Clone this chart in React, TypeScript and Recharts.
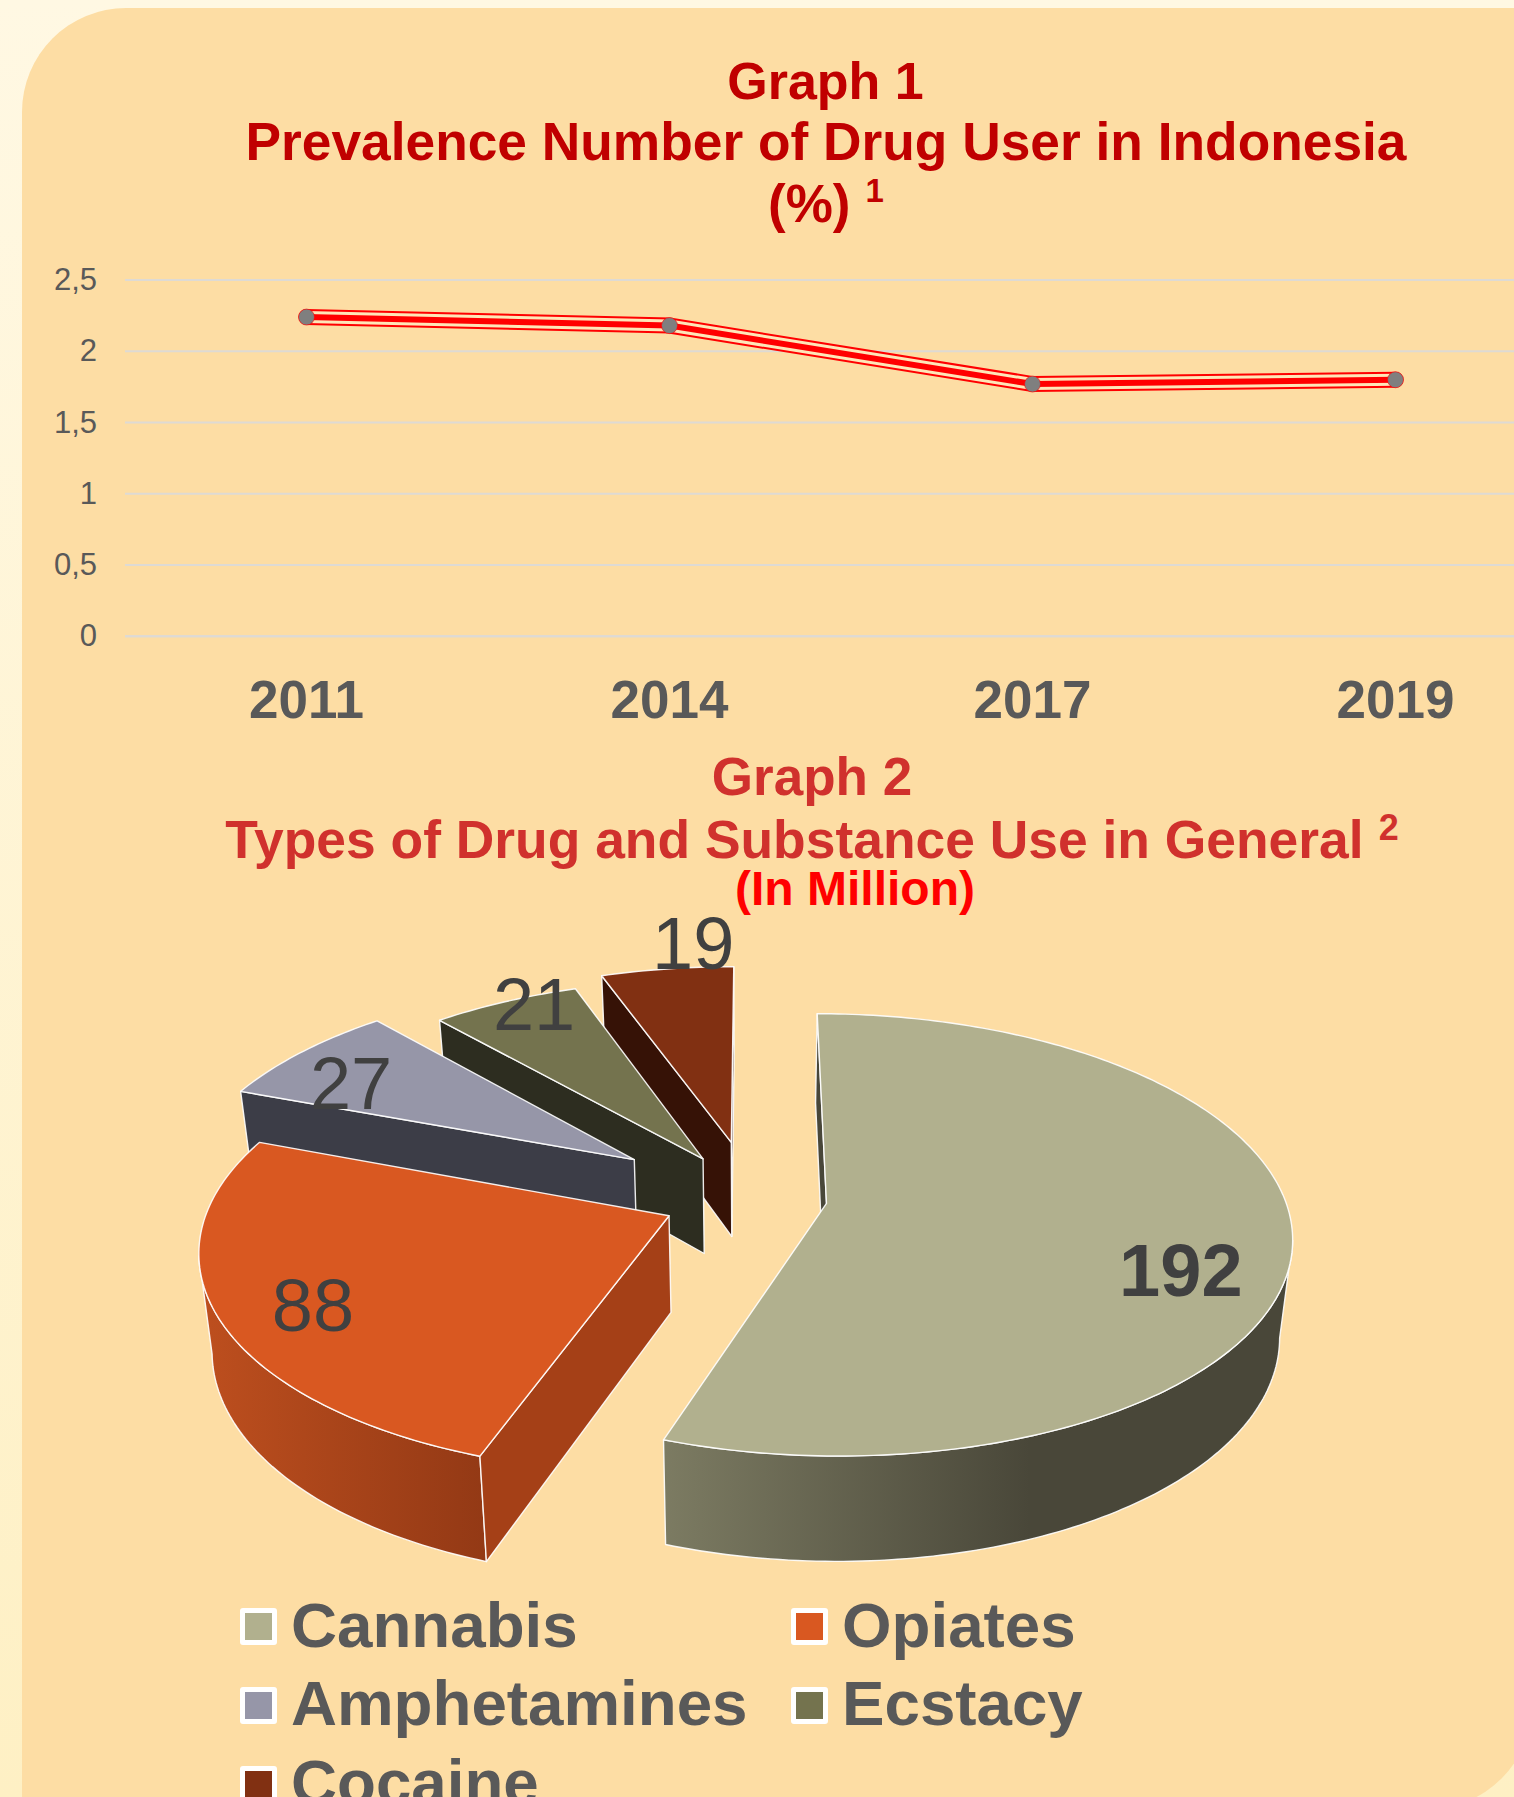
import React from "react";
import { CartesianGrid, Legend, Line, LineChart, Pie, PieChart, XAxis, YAxis } from "recharts";

// Graph 1: prevalence of drug use (%)
const years = ["2011", "2014", "2017", "2019"];
const prevalence = [2.24, 2.18, 1.77, 1.8];
const prevalenceTicks = [0, 0.5, 1, 1.5, 2, 2.5];

// Graph 2: substance use (in million)
const substances = ["Cannabis", "Opiates", "Amphetamines", "Ecstacy", "Cocaine"];
const users = [192, 88, 27, 21, 19];
const topColors = ["#B1B08E", "#D95821", "#9696A8", "#74734E", "#813012"];
const wallColors = ["#494739", "#A54017", "#3C3D47", "#2D2D20", "#361206"];
const rimGradients = [
  ["#7C7B62", "#494739", 665, 1030],
  ["#BC4E1E", "#933915", 210, 486],
  ["#3C3D47", "#3C3D47", 240, 640],
  ["#2D2D20", "#2D2D20", 440, 710],
  ["#361206", "#361206", 600, 740],
];
const explosions = [0.165, 0.197, 0.319, 0.214, 0.27];
const labelShifts = [
  [77.3, 45],
  [-91.7, 31],
  [-77.5, -10],
  [-44.9, -56],
  [2.3, -89.5],
];
const boldLabels = [true, false, false, false, false];

const FONT = '"Liberation Sans", Arial, sans-serif';
const INK = "#595959";

const lineRows = years.map((year, i) => ({ year, value: prevalence[i] }));

// Listed from the back of the pie to the front so nearer slices paint last.
const pieRows = substances
  .map((name, i) => ({ name, value: users[i], fill: topColors[i] }))
  .reverse();

// Perspective of the tilted disc: depth foreshortening and vertical squash.
const TILT = 0.1415;
const SQUASH = 215;
const VANISH_X = 750;

type Pt = { x: number; y: number; s: number };

const toDisc = (deg: number) => {
  const r = (deg * Math.PI) / 180;
  return [Math.sin(r), -Math.cos(r)];
};

const makeProjector = (cx: number, cy: number, rx: number) => (u: number, v: number): Pt => {
  const s = 1 / (1 - TILT * v);
  return { x: cx + rx * u * s, y: cy + SQUASH * v * s, s };
};

const lower = (p: Pt): Pt => ({
  x: p.x + (VANISH_X - p.x) * 0.024,
  y: p.y + 41 + 55 * p.s,
  s: p.s,
});

const pathOf = (pts: Pt[]) =>
  pts.map((p, i) => `${i ? "L" : "M"}${p.x.toFixed(2)} ${p.y.toFixed(2)}`).join("") + "Z";

// Recharts angles run counter-clockwise from east; the disc uses clockwise from north.
const clockwiseRange = (startAngle: number, endAngle: number) => {
  let from = 90 - Math.max(startAngle, endAngle);
  let to = 90 - Math.min(startAngle, endAngle);
  while (from < 0) {
    from += 360;
    to += 360;
  }
  return [from, to];
};

const Slice3D = (props: any) => {
  const { cx, cy, outerRadius, startAngle, endAngle } = props;
  const name = props.payload?.name ?? props.name;
  const idx = substances.indexOf(name);
  const project = makeProjector(cx, cy, outerRadius);
  const [from, to] = clockwiseRange(startAngle, endAngle);
  const [du, dv] = toDisc((from + to) / 2);
  const ou = du * explosions[idx];
  const ov = dv * explosions[idx];
  const apex = project(ou, ov);
  const camV = 1 / TILT;

  const steps = Math.max(4, Math.ceil(to - from));
  const rim: Pt[] = [];
  const front: Pt[] = [];
  for (let k = 0; k <= steps; k++) {
    const deg = from + ((to - from) * k) / steps;
    const [u, v] = toDisc(deg);
    const p = project(ou + u, ov + v);
    rim.push(p);
    if (u * (0 - (ou + u)) + v * (camV - (ov + v)) > 0) front.push(p);
  }

  const wall = (deg: number, sign: number, edge: Pt) => {
    const r = (deg * Math.PI) / 180;
    const nu = sign * Math.cos(r);
    const nv = sign * Math.sin(r);
    const facing = nu * (0 - ou) + nv * (camV - ov) > 0;
    return facing ? pathOf([apex, edge, lower(edge), lower(apex)]) : null;
  };
  const startWall = wall(from, -1, rim[0]);
  const endWall = wall(to, 1, rim[rim.length - 1]);
  const [light, dark, x1, x2] = rimGradients[idx];
  const gradId = `rim-${idx}`;
  const edgeStyle = { stroke: "#FFFFFF", strokeWidth: 1.4, strokeLinejoin: "round" as const, strokeOpacity: 0.9 };

  return (
    <g>
      <defs>
        <linearGradient id={gradId} gradientUnits="userSpaceOnUse" x1={x1 as number} x2={x2 as number} y1={0} y2={0}>
          <stop offset="0" stopColor={light as string} />
          <stop offset="1" stopColor={dark as string} />
        </linearGradient>
      </defs>
      {front.length > 1 && (
        <path d={pathOf([...front, ...[...front].reverse().map(lower)])} fill={`url(#${gradId})`} {...edgeStyle} />
      )}
      {endWall && <path d={endWall} fill={wallColors[idx]} {...edgeStyle} />}
      {startWall && <path d={startWall} fill={wallColors[idx]} {...edgeStyle} />}
      <path d={pathOf([apex, ...rim])} fill={topColors[idx]} {...edgeStyle} />
    </g>
  );
};

const SliceValue = (props: any) => {
  const { cx, cy, outerRadius, midAngle, value } = props;
  const name = props.payload?.name ?? props.name;
  const idx = substances.indexOf(name);
  const project = makeProjector(cx, cy, outerRadius);
  let deg = 90 - midAngle;
  while (deg < 0) deg += 360;
  const [du, dv] = toDisc(deg);
  const reach = explosions[idx] + 0.6;
  const p = project(du * reach, dv * reach);
  const [sx, sy] = labelShifts[idx];
  return (
    <text
      x={p.x + sx}
      y={p.y + sy}
      textAnchor="middle"
      dominantBaseline="central"
      fontFamily={FONT}
      fontSize={74}
      fontWeight={boldLabels[idx] ? 700 : 400}
      fill="#404040"
    >
      {value}
    </text>
  );
};

const LegendGrid = ({ payload }: any) => (
  <div
    style={{
      display: "grid",
      gridTemplateColumns: "551px 420px",
      gridAutoRows: "78.8px",
      fontFamily: FONT,
      fontWeight: 700,
      fontSize: 63.7,
      lineHeight: "78.8px",
      color: INK,
    }}
  >
    {substances.map((name) => {
      const entry = (payload || []).find((e: any) => e.value === name);
      return (
        <div key={name} style={{ display: "flex", alignItems: "center" }}>
          <span
            style={{
              boxSizing: "border-box",
              width: 37,
              height: 37,
              marginTop: 3,
              marginRight: 14,
              border: "5px solid #FFFFFF",
              borderRadius: 3,
              background: entry?.color,
              flex: "none",
            }}
          />
          {name}
        </div>
      );
    })}
  </div>
);

const titleRed = "#C00000";
const titleRose = "#D0312D";

export default function App() {
  return (
    <div
      style={{
        position: "absolute",
        left: 0,
        top: 0,
        width: 1514,
        height: 1797,
        overflow: "hidden",
        background: "linear-gradient(180deg, #FFF8E3 0%, #FEF0C4 100%)",
      }}
    >
      <div
        style={{
          position: "absolute",
          left: 22,
          top: 8,
          width: 1510,
          height: 1801,
          borderRadius: "104px 0 104px 0",
          background: "#FDDDA4",
        }}
      />

      <div style={{ position: "absolute", left: 0, top: 0 }}>
        <LineChart
          width={1580}
          height={730}
          data={lineRows}
          margin={{ top: 280, right: 3, bottom: 0, left: 0 }}
        >
          <CartesianGrid horizontal vertical={false} stroke="#DEDAD4" strokeWidth={2} />
          <XAxis
            dataKey="year"
            padding={{ left: 181.5, right: 181.5 }}
            height={93.7}
            axisLine={{ stroke: "#DEDAD4", strokeWidth: 2 }}
            tickLine={false}
            tickSize={0}
            tickMargin={44.5}
            interval={0}
            tick={{ fontFamily: FONT, fontSize: 53, fontWeight: 700, fill: INK }}
          />
          <YAxis
            width={125}
            domain={[0, 2.5]}
            ticks={prevalenceTicks}
            axisLine={false}
            tickLine={false}
            tickSize={0}
            tickMargin={28}
            tickFormatter={(v: number) => String(v).replace(".", ",")}
            tick={{ fontFamily: FONT, fontSize: 31, fill: INK, dy: -1 }}
          />
          <Line dataKey="value" stroke="#FF0000" strokeWidth={16} strokeLinecap="round" strokeLinejoin="miter" dot={false} isAnimationActive={false} />
          <Line dataKey="value" stroke="#FEE6B8" strokeWidth={12} strokeLinecap="butt" strokeLinejoin="miter" dot={false} isAnimationActive={false} />
          <Line
            dataKey="value"
            stroke="#FF0000"
            strokeWidth={6}
            strokeLinecap="butt"
            strokeLinejoin="miter"
            dot={{ r: 8, fill: "#7F7F7F", stroke: "#FF0000", strokeWidth: 0.6 }}
            isAnimationActive={false}
          />
        </LineChart>
      </div>

      <div style={{ position: "absolute", left: 0, top: 0 }}>
        <PieChart width={1514} height={1797} margin={{ top: 0, right: 0, bottom: 0, left: 0 }}>
          <Pie
            data={pieRows}
            dataKey="value"
            nameKey="name"
            cx={751.7}
            cy={1197.5}
            innerRadius={0}
            outerRadius={458}
            startAngle={90}
            endAngle={450}
            stroke="none"
            shape={Slice3D}
            activeShape={Slice3D}
            inactiveShape={Slice3D}
            label={SliceValue}
            labelLine={false}
            isAnimationActive={false}
          />
          <Legend
            content={LegendGrid}
            wrapperStyle={{ position: "absolute", left: 240, top: 1585.6, bottom: "auto", width: 1000 }}
          />
        </PieChart>
      </div>

      <svg
        width={1514}
        height={1000}
        style={{ position: "absolute", left: 0, top: 0, pointerEvents: "none" }}
        fontFamily={FONT}
        fontWeight={700}
        textAnchor="middle"
      >
        <text x={825.5} y={98.5} fontSize={52} fill={titleRed}>Graph 1</text>
        <text x={826} y={160} fontSize={53.3} fill={titleRed}>Prevalence Number of Drug User in Indonesia</text>
        <text x={826} y={222} fontSize={53} fill={titleRed}>
          (%)
          <tspan dx={15} dy={-20} fontSize={33}>1</tspan>
        </text>
        <text x={812} y={795} fontSize={53} fill={titleRose}>Graph 2</text>
        <text x={812} y={858} fontSize={53.4} fill={titleRose}>
          Types of Drug and Substance Use in General
          <tspan dx={15} dy={-18} fontSize={36}>2</tspan>
        </text>
        <text x={855} y={905} fontSize={48} fill="#FF0000">(In Million)</text>
      </svg>
    </div>
  );
}
